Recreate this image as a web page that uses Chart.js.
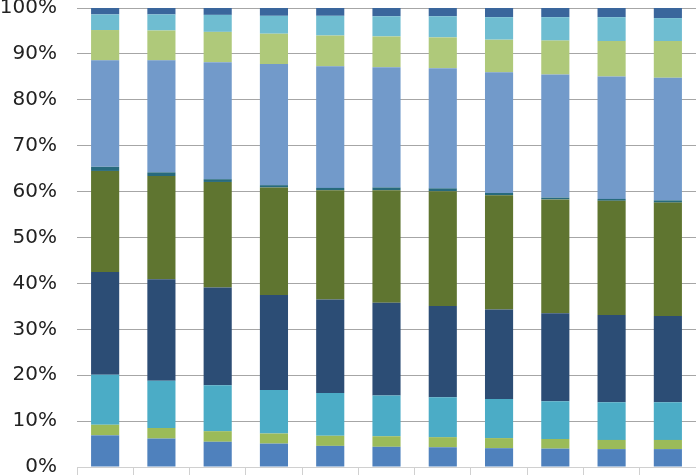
<!DOCTYPE html>
<html>
<head>
<meta charset="utf-8">
<script src="https://cdn.jsdelivr.net/npm/chart.js@4/dist/chart.umd.min.js"></script>
<style>
  html, body { margin: 0; padding: 0; background: #fff; }
  #wrap { width: 696px; height: 475px; position: relative; }
</style>
</head>
<body>
<div id="wrap"><canvas id="chart"></canvas></div>
<script>
// categories (no labels are printed under the bars)
const categories = ['1', '2', '3', '4', '5', '6', '7', '8', '9', '10', '11'];

// y axis ticks
const yTicks = [0, 10, 20, 30, 40, 50, 60, 70, 80, 90, 100];

// series, bottom to top (share of each bar, %)
const s1  = [6.9, 6.2, 5.5, 5.1, 4.6, 4.4, 4.3, 4.1, 4.0, 3.9, 3.9];
const s2  = [2.3, 2.3, 2.3, 2.2, 2.2, 2.3, 2.2, 2.2, 2.1, 2.0, 2.0];
const s3  = [10.9, 10.3, 10.0, 9.5, 9.3, 8.9, 8.7, 8.5, 8.2, 8.2, 8.2];
const s4  = [22.4, 22.1, 21.3, 20.7, 20.4, 20.2, 19.9, 19.5, 19.2, 19.0, 18.8];
const s5  = [22.0, 22.5, 23.0, 23.4, 23.8, 24.5, 25.0, 24.9, 24.8, 24.9, 24.7];
const s6  = [0.9, 0.8, 0.6, 0.5, 0.5, 0.6, 0.6, 0.5, 0.4, 0.4, 0.5];
const s7  = [23.2, 24.4, 25.5, 26.4, 26.5, 26.2, 26.2, 26.3, 26.8, 26.7, 26.7];
const s8  = [6.6, 6.5, 6.6, 6.6, 6.7, 6.7, 6.7, 7.1, 7.4, 7.7, 8.0];
const s9  = [3.4, 3.5, 3.7, 3.9, 4.3, 4.4, 4.6, 4.9, 5.1, 5.2, 5.0];
const s10 = [1.4, 1.4, 1.5, 1.7, 1.7, 1.8, 1.8, 2.0, 2.0, 2.0, 2.2];

const seriesData = [s1, s2, s3, s4, s5, s6, s7, s8, s9, s10];
const seriesNames = ['Series 1', 'Series 2', 'Series 3', 'Series 4', 'Series 5',
                     'Series 6', 'Series 7', 'Series 8', 'Series 9', 'Series 10'];
const seriesColors = ['#4f81bd', '#9bbb59', '#4bacc6', '#2c4d75', '#5f7530',
                      '#276a7c', '#729aca', '#afc97a', '#6fbdd1', '#3a669c'];

const datasets = seriesData.map((d, i) => ({
  label: seriesNames[i],
  data: d,
  backgroundColor: seriesColors[i],
  borderWidth: 0,
  barPercentage: 0.5,
  categoryPercentage: 1.0
}));

new Chart(document.getElementById('chart'), {
  type: 'bar',
  data: { labels: categories, datasets: datasets },
  options: {
    responsive: true,
    maintainAspectRatio: false,
    animation: false,
    layout: { padding: { top: 8, left: 0, right: 0, bottom: 0 } },
    plugins: {
      legend: { display: false },
      tooltip: { enabled: false }
    },
    scales: {
      x: {
        stacked: true,
        border: { display: true, color: '#d0d0d0', width: 1 },
        grid: {
          display: true,
          offset: true,
          drawOnChartArea: false,
          drawTicks: true,
          tickLength: 8,
          color: '#d0d0d0'
        },
        ticks: { display: false }
      },
      y: {
        stacked: true,
        min: 0,
        max: 100,
        afterBuildTicks: (scale) => { scale.ticks = yTicks.map(v => ({ value: v })); },
        afterFit: (scale) => {
          scale.width = 77;
          scale.paddingTop = 0;
          scale.paddingBottom = 0;
        },
        border: { display: false },
        grid: {
          drawTicks: false,
          color: (ctx) => ctx.tick && ctx.tick.value === 0 ? 'rgba(0,0,0,0)' : '#a6a6a6',
          lineWidth: 1,
          borderDash: [2, 2]
        },
        ticks: {
          padding: 20,
          color: '#222222',
          font: { family: 'DejaVu Sans', size: 20 },
          callback: (v) => v + '%'
        }
      }
    }
  }
});
</script>
</body>
</html>
